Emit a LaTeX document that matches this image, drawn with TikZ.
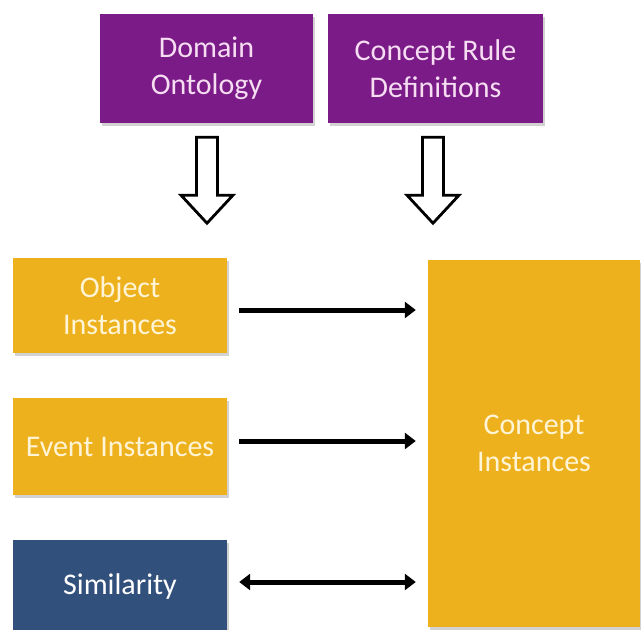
\documentclass[tikz,border=0pt]{standalone}
\usepackage{fontspec}
\setmainfont{Carlito}
\usetikzlibrary{arrows.meta,shadows,calc}
\definecolor{purp}{HTML}{7A1B88}
\definecolor{gold}{HTML}{EEB11E}
\definecolor{navy}{HTML}{32507C}
\definecolor{ptext}{HTML}{F6DDF2}
\definecolor{gtext}{HTML}{FFF5D6}
\tikzset{
  box/.style={rectangle, inner sep=0pt, align=center, font=\fontsize{30}{37}\selectfont,
    drop shadow={shadow xshift=1.5pt, shadow yshift=-2.5pt, opacity=0.35, fill=gray}},
  pbox/.style={box, fill=purp, text=ptext},
  gbox/.style={box, fill=gold, text=gtext},
  bbox/.style={box, fill=navy, text=white},
  hollow/.style={draw=black, line width=2.8pt, fill=white, line join=miter},
  conn/.style={line width=5pt, -{Triangle[length=11pt,width=16pt]}},
  conn2/.style={line width=5pt, {Triangle[length=11pt,width=16pt]}-{Triangle[length=11pt,width=16pt]}}
}
\begin{document}
\begin{tikzpicture}[x=1pt,y=-1pt]
\useasboundingbox[fill=white] (0,0) rectangle (641,630);
\node[pbox, minimum width=213pt, minimum height=109pt] (dom) at (206.5,68.5) {Domain\\Ontology};
\node[pbox, minimum width=215pt, minimum height=109pt] (crd) at (435.5,68.5) {Concept Rule\\Definitions};
\node[gbox, minimum width=214pt, minimum height=95pt] (obj) at (120,305.5) {Object\\Instances};
\node[gbox, minimum width=214pt, minimum height=97pt] (evt) at (120,446.5) {Event Instances};
\node[bbox, minimum width=214pt, minimum height=92pt] (sim) at (120,586) {Similarity};
\node[gbox, minimum width=212pt, minimum height=367pt] (con) at (534,443.5) {Concept\\Instances};
% hollow arrows
\coordinate (la) at ($(dom.south)+(0.5,14)$);
\coordinate (ra) at ($(crd.south)+(-2.5,14)$);
\foreach \c in {la,ra}{
  \draw[hollow] ($(\c)+(-10.5,0)$) -- ($(\c)+(10.5,0)$) -- ($(\c)+(10.5,58)$) -- ($(\c)+(26,58)$)
    -- ($(\c)+(0,86)$) -- ($(\c)+(-26,58)$) -- ($(\c)+(-10.5,58)$) -- cycle;
}
% connector anchors
\coordinate (o1) at ($(obj.east)+(12,4.5)$);
\coordinate (e1) at ($(evt.east)+(12,-5.5)$);
\coordinate (s1) at ($(sim.east)+(12,-4)$);
\coordinate (o2) at ($(con.west |- o1)+(-12,0)$);
\coordinate (e2) at ($(con.west |- e1)+(-12,0)$);
\coordinate (s2) at ($(con.west |- s1)+(-12,0)$);
\draw[conn] (o1) -- (o2);
\draw[conn] (e1) -- (e2);
\draw[conn2] (s1) -- (s2);
\end{tikzpicture}
\end{document}
